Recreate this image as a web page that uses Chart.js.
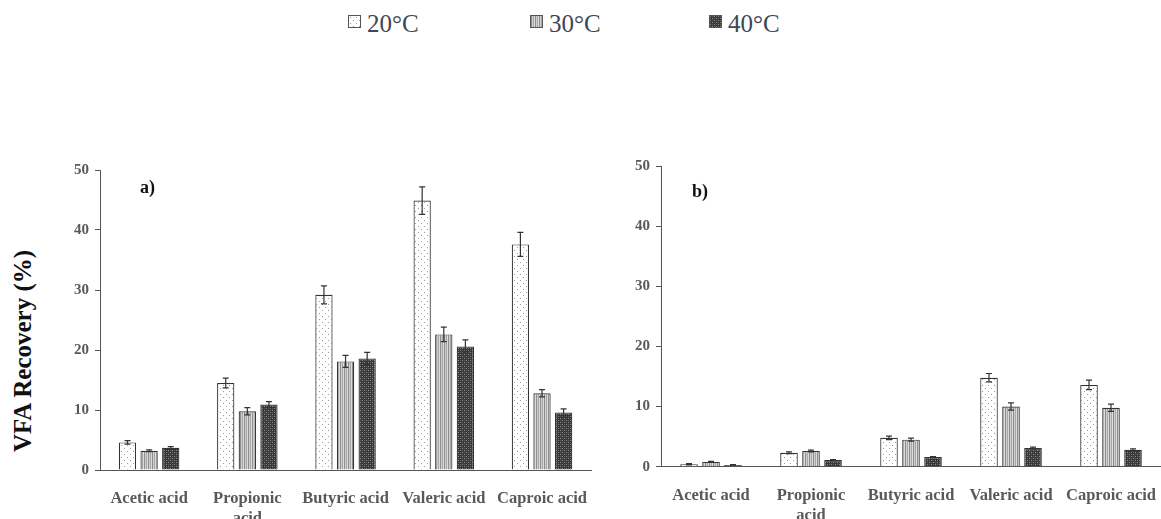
<!DOCTYPE html>
<html>
<head>
<meta charset="utf-8">
<script src="https://cdn.jsdelivr.net/npm/chart.js@4.4.1/dist/chart.umd.min.js"></script>
<style>
  html, body { margin: 0; padding: 0; overflow: hidden; background: #fff; }
  #wrap { position: relative; width: 1161px; height: 519px; overflow: hidden; }
  canvas { position: absolute; }
  .txt { position: absolute; font-family: "Liberation Serif", "Times New Roman", serif; white-space: nowrap; }
  .legtxt { font-size: 25px; color: #3e4656; line-height: 1; transform: translateY(-50%); }
  .sw { position: absolute; width: 11px; height: 11px; border: 1px solid #555; }
  .panel { font-size: 18px; font-weight: bold; color: #111; line-height: 1; transform: translateY(-50%); }
  #ytitle { left: 23px; top: 351px; font-size: 25px; font-weight: bold; color: #111;
            transform: translate(-50%, -50%) rotate(-90deg); }
</style>
</head>
<body>
<div id="wrap">
  <canvas id="sw20" class="sw" width="11" height="11" style="left:348px;top:15px"></canvas>
  <div class="txt legtxt" style="left:367px;top:23px">20°C</div>
  <canvas id="sw30" class="sw" width="11" height="11" style="left:530px;top:15px"></canvas>
  <div class="txt legtxt" style="left:549px;top:23px">30°C</div>
  <canvas id="sw40" class="sw" width="11" height="11" style="left:709px;top:15px"></canvas>
  <div class="txt legtxt" style="left:728px;top:23px">40°C</div>

  <div id="ytitle" class="txt">VFA Recovery (%)</div>

  <canvas id="chartA" width="598" height="369" style="left:0px;top:150px"></canvas>
  <canvas id="chartB" width="606" height="369" style="left:561px;top:150px"></canvas>

  <div class="txt panel" style="left:140px;top:187px">a)</div>
  <div class="txt panel" style="left:692px;top:191px">b)</div>
</div>

<script>
// categories and tick values
var categories = ['Acetic acid', ['Propionic', 'acid'], 'Butyric acid', 'Valeric acid', 'Caproic acid'];
var seriesNames = ['20°C', '30°C', '40°C'];
var yTicks = [0, 10, 20, 30, 40, 50];

// panel a) values (%) and error bars
var a20 = [4.6, 14.5, 29.2, 44.9, 37.6];
var a30 = [3.2, 9.8, 18.1, 22.6, 12.8];
var a40 = [3.7, 10.9, 18.6, 20.6, 9.6];
var a20err = [0.3, 0.8, 1.5, 2.3, 2.0];
var a30err = [0.15, 0.6, 1.0, 1.2, 0.6];
var a40err = [0.2, 0.5, 1.0, 1.1, 0.6];

// panel b) values (%) and error bars
var b20 = [0.4, 2.3, 4.8, 14.8, 13.6];
var b30 = [0.8, 2.6, 4.5, 10.0, 9.8];
var b40 = [0.3, 1.1, 1.6, 3.1, 2.8];
var b20err = [0.1, 0.15, 0.3, 0.7, 0.8];
var b30err = [0.1, 0.15, 0.25, 0.6, 0.6];
var b40err = [0.05, 0.1, 0.1, 0.15, 0.15];

// hatch-like fills
function makeTile(kind) {
  var c = document.createElement('canvas');
  var g;
  if (kind === 'dots') {
    c.width = 6; c.height = 6;
    g = c.getContext('2d');
    g.fillStyle = '#ffffff'; g.fillRect(0, 0, 6, 6);
    g.fillStyle = '#9a9a9a';
    g.fillRect(1, 1, 1, 1); g.fillRect(4, 4, 1, 1);
  } else if (kind === 'stripes') {
    c.width = 4; c.height = 2;
    g = c.getContext('2d');
    g.fillStyle = '#8e8e8e'; g.fillRect(0, 0, 1, 2);
    g.fillStyle = '#cfcfcf'; g.fillRect(1, 0, 1, 2);
    g.fillStyle = '#a8a8a8'; g.fillRect(2, 0, 1, 2);
    g.fillStyle = '#dcdcdc'; g.fillRect(3, 0, 1, 2);
  } else {
    c.width = 4; c.height = 4;
    g = c.getContext('2d');
    g.fillStyle = '#383838'; g.fillRect(0, 0, 4, 4);
    g.fillStyle = '#8e8e8e';
    g.fillRect(0, 0, 1, 1); g.fillRect(2, 2, 1, 1);
    g.fillStyle = '#606060';
    g.fillRect(2, 0, 1, 1); g.fillRect(0, 2, 1, 1);
  }
  return c;
}
function pattern(ctx, kind) {
  return ctx.createPattern(makeTile(kind), 'repeat');
}
var kinds = ['dots', 'stripes', 'checks'];

// legend swatches
['sw20', 'sw30', 'sw40'].forEach(function (id, i) {
  var g = document.getElementById(id).getContext('2d');
  g.fillStyle = pattern(g, kinds[i]);
  g.fillRect(0, 0, 11, 11);
});

var errorBars = {
  id: 'errorBars',
  afterDatasetsDraw: function (chart) {
    var ctx = chart.ctx;
    var y = chart.scales.y;
    ctx.save();
    ctx.strokeStyle = '#333';
    ctx.lineWidth = 1.2;
    chart.data.datasets.forEach(function (ds, i) {
      var meta = chart.getDatasetMeta(i);
      meta.data.forEach(function (bar, j) {
        var v = ds.data[j], e = ds.errors[j];
        var top = y.getPixelForValue(v + e);
        var bot = y.getPixelForValue(v - e);
        ctx.beginPath();
        ctx.moveTo(bar.x, top); ctx.lineTo(bar.x, bot);
        ctx.moveTo(bar.x - 3, top); ctx.lineTo(bar.x + 3, top);
        ctx.moveTo(bar.x - 3, bot); ctx.lineTo(bar.x + 3, bot);
        ctx.stroke();
      });
    });
    ctx.restore();
  }
};

function makeChart(id, v20, v30, v40, e20, e30, e40, padTop, xHeight) {
  var canvas = document.getElementById(id);
  var ctx = canvas.getContext('2d');
  var vals = [v20, v30, v40];
  var errs = [e20, e30, e40];
  var font = { family: 'Liberation Serif', weight: 'bold' };
  return new Chart(ctx, {
    type: 'bar',
    data: {
      labels: categories,
      datasets: seriesNames.map(function (name, i) {
        return {
          label: name,
          data: vals[i],
          errors: errs[i],
          backgroundColor: pattern(ctx, kinds[i]),
          borderColor: '#333',
          borderWidth: 1.2,
          categoryPercentage: 0.66,
          barPercentage: 0.8
        };
      })
    },
    options: {
      responsive: false,
      animation: false,
      layout: { padding: { top: padTop, left: 0, right: 0, bottom: 0 } },
      plugins: { legend: { display: false }, tooltip: { enabled: false } },
      scales: {
        x: {
          grid: { display: false },
          border: { color: '#555', width: 1 },
          ticks: {
            color: '#595959', padding: 11, maxRotation: 0, autoSkip: false,
            font: Object.assign({ size: 16.5, lineHeight: 1.2 }, font)
          },
          afterFit: function (s) { s.height = xHeight; }
        },
        y: {
          min: 0, max: 50,
          afterBuildTicks: function (s) { s.ticks = yTicks.map(function (v) { return { value: v }; }); },
          grid: { drawOnChartArea: false, drawTicks: true, tickLength: 5, color: '#555' },
          border: { color: '#555', width: 1 },
          ticks: { color: '#595959', padding: 6, font: Object.assign({ size: 15 }, font) },
          afterFit: function (s) { s.width = 100; }
        }
      }
    },
    plugins: [errorBars]
  });
}

makeChart('chartA', a20, a30, a40, a20err, a30err, a40err, 20, 49);
makeChart('chartB', b20, b30, b40, b20err, b30err, b40err, 16, 52.3);
</script>
</body>
</html>
